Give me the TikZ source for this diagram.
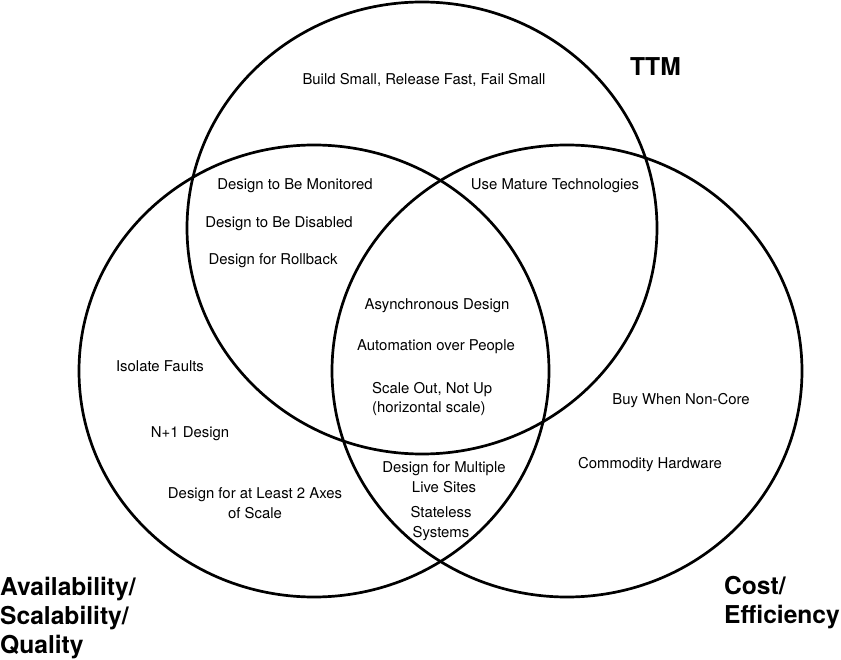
\documentclass[tikz,border=0pt]{standalone}
\usepackage{fontspec}
\setmainfont{TeX Gyre Heros}
\begin{document}
\begin{tikzpicture}[x=1pt,y=-1pt,
  ring/.style={draw=black,line width=2.7pt},
  body/.style={font=\fontsize{14.9}{19.3}\selectfont,anchor=base,inner sep=0pt,align=center},
  title/.style={font=\fontsize{24.6}{29}\selectfont\bfseries,anchor=base west,inner sep=0pt,align=left}]
\useasboundingbox (0,0) rectangle (841,660);
% circles
\draw[ring] (422,228) ellipse [x radius=235, y radius=226];
\draw[ring] (314,371) ellipse [x radius=235, y radius=226];
\draw[ring] (567,371) ellipse [x radius=235, y radius=226];
% titles (anchor at the baseline of the last line)
\node[title] (ttm) at (630,76) {TTM};
\node[title] (asq) at (0,653) {Availability/\\Scalability/\\Quality};
\node[title] (ce) at (724,623) {Cost/\\Efficiency};
% texts
\node[body] (build) at (424,85) {Build Small, Release Fast, Fail Small};
\node[body] (mon) at (295,190) {Design to Be Monitored};
\node[body] (dis) at (279,228) {Design to Be Disabled};
\node[body] (roll) at (273,265) {Design for Rollback};
\node[body] (mature) at (555,190) {Use Mature Technologies};
\node[body] (async) at (437,310) {Asynchronous Design};
\node[body] (auto) at (436,351) {Automation over People};
\node[body,anchor=base west,align=left] (scale) at (372,413) {Scale Out, Not Up\\(horizontal scale)};
\node[body] (multi) at (444,492) {Design for Multiple\\Live Sites};
\node[body] (stateless) at (441,537) {Stateless\\Systems};
\node[body] (isolate) at (160,372) {Isolate Faults};
\node[body] (n1) at (190,437) {N+1 Design};
\node[body] (axes) at (255,518) {Design for at Least 2 Axes\\of Scale};
\node[body] (buy) at (681,404) {Buy When Non-Core};
\node[body] (comm) at (650,468) {Commodity Hardware};
\end{tikzpicture}
\end{document}
